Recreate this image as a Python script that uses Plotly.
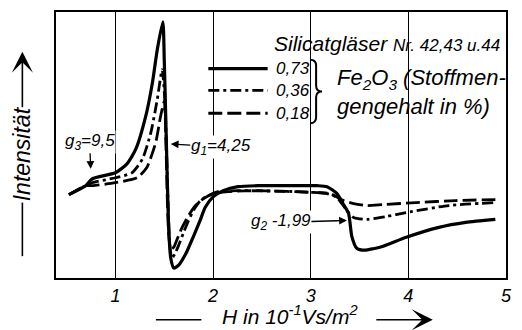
import plotly.graph_objects as go

# Field strength H (10^-1 Vs/m^2) and relative intensity for each Fe2O3 content
h_073 = [0.524, 0.696, 0.764, 1.000, 1.119, 1.210, 1.311, 1.378, 1.429, 1.486,
         1.501, 1.517, 1.532, 1.547, 1.567, 1.598, 1.648, 1.729, 1.800, 1.868,
         1.919, 2.003, 2.104, 2.256, 2.459, 2.864, 3.067, 3.168, 3.269, 3.330,
         3.388, 3.421, 3.472, 3.553, 3.641, 3.743, 3.979, 4.313, 4.587, 4.891]
i_073 = [84, 93, 100, 106, 115, 130, 163, 196, 230, 258,
         218, 158, 98, 48, 20, 10, 13, 26, 42, 58,
         71, 82, 88, 92, 93, 93, 93, 92, 85, 75,
         65, 42, 30, 28, 29.5, 32, 41, 51, 56, 59]

h_036 = [0.524, 0.696, 0.764, 1.000, 1.169, 1.277, 1.362, 1.429, 1.479, 1.507,
         1.527, 1.542, 1.557, 1.578, 1.608, 1.648, 1.699, 1.750, 1.811, 1.871,
         1.952, 2.054, 2.256, 2.864, 3.067, 3.168, 3.269, 3.371, 3.439, 3.573,
         3.776, 3.979, 4.414, 4.891]
i_036 = [84, 93, 96, 101, 106, 120, 146, 180, 210, 178,
         118, 68, 33, 20, 24, 33, 46, 58, 70, 78,
         83, 87, 88, 87, 86, 85, 81, 68, 61, 59,
         62, 66, 73, 76]

h_018 = [0.524, 0.696, 0.764, 1.000, 1.223, 1.320, 1.412, 1.463, 1.501, 1.517,
         1.532, 1.547, 1.567, 1.598, 1.628, 1.679, 1.750, 1.821, 1.902, 2.003,
         2.155, 2.459, 3.067, 3.199, 3.337, 3.439, 3.573, 3.743, 4.080, 4.485,
         4.891]
i_018 = [84, 93, 93, 96, 101, 111, 136, 163, 178, 138,
         78, 43, 29, 31, 38, 50, 63, 73, 80, 85,
         87, 88, 86, 85, 78, 75, 73, 74, 76, 78,
         79]

concentrations = ["0,73", "0,36", "0,18"]
x_ticks = [1, 2, 3, 4, 5]

# g-factor markers: (label, H, intensity at arrow tip)
g_labels = ["g<sub>3</sub>=9,5", "g<sub>1</sub>=4,25", "g<sub>2</sub> -1,99"]
g_h = [0.747, 1.567, 3.371]
g_i = [110, 135, 58]

FONT = "Liberation Sans"
dash_styles = ["solid", "11px,4px,3px,4px", "14px,5px"]
widths = [3.2, 2.8, 2.8]

fig = go.Figure()
for h, inten, name, dash, w in zip([h_073, h_036, h_018], [i_073, i_036, i_018],
                                   concentrations, dash_styles, widths):
    fig.add_trace(go.Scatter(
        x=h, y=inten, mode="lines", name=name, showlegend=False,
        line=dict(color="black", width=w, dash=dash, shape="spline", smoothing=0.6),
    ))

# plot area in pixels: x 56..511, y 10..278
def px(xp):
    return (xp - 56) / 455

def py(yp):
    return (278 - yp) / 268

shapes = []
# white panels keep the grid lines away from the key text
shapes.append(dict(type="rect", xref="paper", yref="paper", layer="between",
                   x0=px(268), x1=px(508), y0=py(54), y1=py(30),
                   fillcolor="white", line=dict(width=0)))
shapes.append(dict(type="rect", xref="paper", yref="paper", layer="between",
                   x0=px(205), x1=px(508), y0=py(126), y1=py(48),
                   fillcolor="white", line=dict(width=0)))

# key line samples
key_y = [67, 89, 112]
for yy, dash, w in zip(key_y, dash_styles, widths):
    shapes.append(dict(type="line", xref="paper", yref="paper",
                       x0=px(210), x1=px(270), y0=py(yy), y1=py(yy),
                       line=dict(color="black", width=w, dash=dash)))

# curly brace grouping the key
brace = (f"M {px(313)},{py(58)} Q {px(319)},{py(58)} {px(319)},{py(64)} "
         f"L {px(319)},{py(84)} Q {px(319)},{py(90)} {px(325)},{py(90)} "
         f"Q {px(319)},{py(90)} {px(319)},{py(96)} L {px(319)},{py(116)} "
         f"Q {px(319)},{py(122)} {px(313)},{py(122)}")
shapes.append(dict(type="path", xref="paper", yref="paper", path=brace,
                   line=dict(color="black", width=2)))

# axis title stems
shapes.append(dict(type="line", xref="paper", yref="paper",
                   x0=px(22), x1=px(22), y0=py(256), y1=py(202),
                   line=dict(color="black", width=1.6)))
shapes.append(dict(type="line", xref="paper", yref="paper",
                   x0=px(157), x1=px(203), y0=py(320), y1=py(320),
                   line=dict(color="black", width=1.6)))

annotations = []
italic = dict(family=FONT, color="black", style="italic")

annotations.append(dict(
    xref="paper", yref="paper", x=px(274), y=py(42), xanchor="left", yanchor="middle",
    text="<i>Silicatgläser <span style='font-size:17px'>Nr. 42,43 u.44</span></i>",
    showarrow=False, font=dict(size=21, **italic)))

for yy, lab in zip(key_y, concentrations):
    annotations.append(dict(
        xref="paper", yref="paper", x=px(276), y=py(yy), xanchor="left", yanchor="middle",
        text=lab, showarrow=False, font=dict(size=17, **italic)))

annotations.append(dict(
    xref="paper", yref="paper", x=px(338), y=py(91), xanchor="left", yanchor="middle",
    align="left", text="<i>Fe<sub>2</sub>O<sub>3</sub> (Stoffmen-<br>gengehalt in %)</i>",
    showarrow=False, font=dict(size=22, **italic)))

# g-factor labels with arrows
offsets = [(-1, -27), (50, 3), (-66, 2)]
for lab, gx, gy, (ax, ay) in zip(g_labels, g_h, g_i, offsets):
    annotations.append(dict(
        x=gx, y=gy, xref="x", yref="y", text=lab, ax=ax, ay=ay,
        xanchor="center", yanchor="middle",
        showarrow=True, arrowhead=2, arrowsize=1.2, arrowwidth=1.3,
        arrowcolor="black", bgcolor="white", borderpad=0,
        font=dict(size=17, **italic)))

# axis titles
annotations.append(dict(
    xref="paper", yref="paper", x=px(22), y=py(153), textangle=-90,
    xanchor="center", yanchor="middle",
    text="Intensität", showarrow=False, font=dict(size=23, **italic)))
annotations.append(dict(
    xref="paper", yref="paper", x=px(22), y=py(50), ax=0, ay=57, text="",
    showarrow=True, arrowhead=3, arrowsize=2.2, arrowwidth=1.6, arrowcolor="black"))
annotations.append(dict(
    xref="paper", yref="paper", x=px(293), y=py(315),
    xanchor="center", yanchor="middle",
    text="H in 10<sup>-1</sup>Vs/m<sup>2</sup>", showarrow=False,
    font=dict(size=21, **italic)))
annotations.append(dict(
    xref="paper", yref="paper", x=px(437), y=py(320), ax=-58, ay=0, text="",
    showarrow=True, arrowhead=3, arrowsize=2.2, arrowwidth=1.6, arrowcolor="black"))

fig.update_layout(
    width=522, height=330,
    margin=dict(l=56, r=11, t=10, b=52),
    paper_bgcolor="white", plot_bgcolor="white",
    font=dict(family=FONT, color="black", style="italic"),
    shapes=shapes, annotations=annotations,
    xaxis=dict(range=[0.392, 5.0], tickvals=x_ticks, ticktext=[str(t) for t in x_ticks],
               showgrid=True, gridcolor="black", gridwidth=1,
               showline=True, mirror=True, linecolor="black", linewidth=2,
               ticks="", tickfont=dict(size=18, **italic), zeroline=False),
    yaxis=dict(range=[0, 268], showgrid=False, showticklabels=False, ticks="",
               showline=True, mirror=True, linecolor="black", linewidth=2,
               zeroline=False),
)

fig.write_html("out.html")
